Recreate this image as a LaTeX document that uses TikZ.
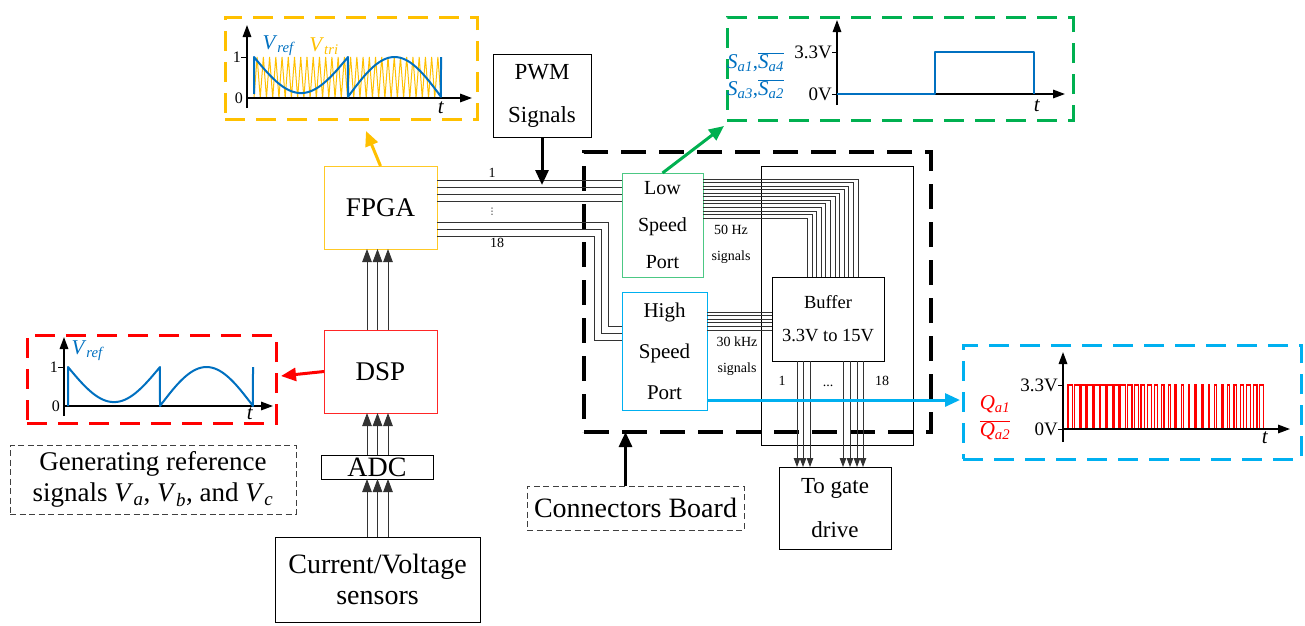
\documentclass[tikz,border=0pt]{standalone}
\usepackage{fontspec}
\setmainfont{Liberation Serif}
\newfontfamily\dejavu{DejaVu Sans}
\usepackage{xcolor}
\usetikzlibrary{arrows.meta, positioning, calc}

\definecolor{oryel}{HTML}{FFC000}
\definecolor{grn}{HTML}{00B050}
\definecolor{rd}{HTML}{FF0000}
\definecolor{cyn}{HTML}{00B0F0}
\definecolor{blu}{HTML}{0070C0}

\newcommand{\fsz}[2]{\fontsize{#1}{#2}\selectfont}
\newcommand{\isub}[2]{\textit{#1}\textsubscript{\textit{#2}}}

\begin{document}
\begin{tikzpicture}[x=1pt, y=-1pt]
\tikzset{
  blk/.style={rectangle,draw=black,line width=0.9pt,inner sep=0pt,outer sep=0pt,align=center},
  lblbox/.style={blk,draw=black!75,dash pattern=on 6pt off 3.5pt},
  zone/.style={rectangle,line width=3pt,dash pattern=on 20pt off 11pt,inner sep=0pt,outer sep=0pt},
  board/.style={zone,draw=black,line width=3.5pt,dash pattern=on 25pt off 13pt},
  wire/.style={line width=0.9pt,draw=black!80},
  tri3/.style={wire,-{Triangle[length=13pt,width=9.5pt]}},
  tri1/.style={wire,-{Triangle[length=9pt,width=6.5pt]}},
  bigar/.style={line width=3pt,-{Triangle[length=15pt,width=13pt]}},
  ax/.style={line width=1.6pt,-{Triangle[length=12pt,width=8.5pt]}},
  vref/.style={draw=blu,line width=2pt,line join=round},
  pulse/.style={color=rd,line width=1.2pt},
  wlab/.style={inner sep=0pt,font=\fsz{16}{18}},
  sml/.style={inner sep=0pt,font=\fsz{14}{26},align=center}
}
\useasboundingbox (0,0) rectangle (1305,625);
% ---- processing chain
\node[blk,draw=oryel!85,minimum width=113pt,minimum height=83pt,font=\fsz{27}{32}] (fpga) at (380.5,207.5) {FPGA};
\node[blk,draw=rd!85,minimum width=113pt,minimum height=83pt,font=\fsz{27}{32}] (dsp) at (380.5,371.5) {DSP};
\node[blk,minimum width=112pt,minimum height=24pt,font=\fsz{28}{32}] (adc) at (377,467) {ADC};
\node[blk,minimum width=205pt,minimum height=85pt,font=\fsz{28}{31}] (sens) at (377.5,579.5) {Current/Voltage\\sensors};
\node[lblbox,minimum width=286pt,minimum height=69pt,font=\fsz{27}{31}] (gen) at (153,479.5) {Generating reference\\signals \isub{V}{a}, \isub{V}{b}, and \isub{V}{c}};
\node[blk,minimum width=98pt,minimum height=83pt,font=\fsz{23}{46}] (pwm) at (542,95.5) {\raisebox{-3pt}{PWM}\\Signals};
% ---- connectors board
\node[board,minimum width=347pt,minimum height=280pt] (board) at (757.5,292) {};
\node[blk,draw=grn!70,minimum width=81pt,minimum height=104pt,font=\fsz{20}{37}] (lsp) at (662.5,225) {Low\\Speed\\Port};
\node[blk,draw=cyn,minimum width=85pt,minimum height=118pt,font=\fsz{21}{41}] (hsp) at (664.5,351) {High\\Speed\\Port};
\node[blk,minimum width=152pt,minimum height=279pt] (frame) at (837,305.5) {};
\node[blk,minimum width=112pt,minimum height=84pt,font=\fsz{18.5}{33}] (buf) at (828,319) {Buffer\\3.3V to 15V};
\node[blk,minimum width=112pt,minimum height=82pt,font=\fsz{23}{44}] (gate) at (835,508) {To gate\\drive};
\node[lblbox,minimum width=217pt,minimum height=44pt,font=\fsz{28}{32}] (cb) at (635.5,508) {Connectors Board};
% ---- waveform zones
\node[zone,draw=oryel,minimum width=252pt,minimum height=102pt] (ybox) at (351,68) {};
\node[zone,draw=grn,minimum width=346pt,minimum height=103pt] (gbox) at (900,68.5) {};
\node[zone,draw=rd,minimum width=249pt,minimum height=88pt] (rbox) at (151.5,379) {};
\node[zone,draw=cyn,minimum width=338pt,minimum height=114pt] (cbox) at (1132,402) {};
% ---- bus wires
\foreach \wy in {180,187,194,201}
  \draw[wire] (fpga.east |- 0,\wy) -- (lsp.west |- 0,\wy);
\foreach \wa/\wb/\wc in {222/608/326, 229/601/333, 236/594/340}
  \draw[wire] (fpga.east |- 0,\wa) -| (\wb,\wc) -- (hsp.west |- 0,\wc);
\foreach \i in {0,...,11}{
  \pgfmathsetmacro\wy{179+3.55*\i}
  \pgfmathsetmacro\wx{858-4.6*\i}
  \draw[wire] (lsp.east |- 0,\wy) -| (buf.north -| \wx,0);
}
\foreach \i in {0,...,5}{
  \pgfmathsetmacro\wy{312+3.6*\i}
  \draw[wire] (hsp.east |- 0,\wy) -- (buf.west |- 0,\wy);
}
\foreach \wx in {797,803,810,843,850,857,863}
  \draw[tri1] (buf.south -| \wx,0) -- (gate.north -| \wx,0);
\foreach \wx in {367,377.5,388}{
  \draw[tri3] (dsp.north -| \wx,0) -- (fpga.south -| \wx,0);
  \draw[tri3] (adc.north -| \wx,0) -- (dsp.south -| \wx,0);
  \draw[tri3] (sens.north -| \wx,0) -- (adc.south -| \wx,0);
}
% ---- arrows
\coordinate (cbup) at ($(cb.north)+(-10,0)$);
\draw[bigar] (pwm.south) -- (pwm.south |- 0,185);
\draw[bigar] (cbup) -- (cbup |- board.south);
\draw[bigar,oryel] (fpga.north) -- ($(ybox.south)+(15,12)$);
\draw[bigar,grn] (lsp.north) -- ($(gbox.south west)+(-3,6)$);
\draw[bigar,rd] (dsp.west) -- ($(rbox.east)+(5,-3)$);
\draw[bigar,cyn] (hsp.east |- 0,400) -- ($(cbox.west |- 0,400)+(-3,0)$);
% ---- wire labels
\node[sml] at (492,173) {1};
\node[inner sep=0pt,font=\dejavu\fsz{9}{10}] at (492,212) {⋮};
\node[sml] at (497,243) {18};
\node[sml] (lslab) at (731,244) {50 Hz\\signals};
\node[sml] (hslab) at (737,356) {30 kHz\\signals};
\node[sml] at (782,381) {1};
\node[sml] at (828,386) {...};
\node[sml] at (882,381) {18};
% ---- V_ref and V_tri
\draw[oryel,line width=1pt] (254,98) \foreach \k in {0,...,29}{ -- ({254+(\k+0.5)*6.233},57) -- ({254+(\k+1)*6.233},98) };
\draw[ax] (247,108) -- (247,25);
\draw[ax] (247,98) -- (472,98);
\draw[line width=1pt] (241,57) -- (247,57);
\draw[vref] (254,94) -- (254,57) -- plot[domain=0:1,samples=40] ({254+94*\x},{98-41*(1-0.88*sin(180*\x))}) -- (348,96) -- plot[domain=0:1,samples=40] ({348+93*\x},{98-41*(0.03+0.97*sin(180*\x))}) -- (441,57);
\node[wlab,anchor=east] at (241,57) {1};
\node[wlab,anchor=east] at (243,98) {0};
\node[inner sep=0pt,font=\fsz{21}{24},blu] at (279,46) {\isub{V}{ref}};
\node[inner sep=0pt,font=\fsz{21}{24},oryel] at (324,46) {\isub{V}{tri}};
\node[inner sep=0pt,font=\fsz{21}{24}] at (441,108) {\textit{t}};
% ---- V_ref of the DSP
\draw[ax] (64,416) -- (64,337);
\draw[ax] (64,406) -- (273,406);
\draw[line width=1pt] (58,367) -- (64,367);
\draw[vref] (68,406) -- (68,367) -- plot[domain=0:1,samples=40] ({68+92*\x},{406-39*(1-0.9*sin(180*\x))}) -- (160,406) -- plot[domain=0:1,samples=40] ({160+93*\x},{406-39*sin(180*\x)}) -- (253,367);
\node[wlab,anchor=east] at (58,367) {1};
\node[wlab,anchor=east] at (60,406) {0};
\node[inner sep=0pt,font=\fsz{21}{24},blu] at (88,351) {\isub{V}{ref}};
\node[inner sep=0pt,font=\fsz{21}{24}] at (250,414) {\textit{t}};
% ---- low speed signal
\draw[ax] (837,105) -- (837,20);
\draw[ax] (837,94) -- (1065,94);
\draw[line width=1pt] (832,52) -- (837,52) (832,94) -- (837,94);
\draw[vref] (837,94) -- (935,94) -- (935,52) -- (1034,52) -- (1034,94);
\node[wlab,font=\fsz{19}{22},anchor=east] at (832,52) {3.3V};
\node[wlab,font=\fsz{19}{22},anchor=east] at (832,94) {0V};
\node[inner sep=0pt,font=\fsz{21}{27},blu,anchor=west,align=left] at (727,76) {\isub{S}{a1},$\overline{\hbox{\isub{S}{a4}}}$\\\isub{S}{a3},$\overline{\hbox{\isub{S}{a2}}}$};
\node[inner sep=0pt,font=\fsz{21}{24}] at (1037,106) {\textit{t}};
% ---- high speed signal
\draw[pulse] (1067,429) -- (1265,429);
\foreach \k in {0,...,29}{
  \pgfmathsetmacro\duty{0.5+0.3*sin(360*(\k+0.5)/30+30)}
  \pgfmathsetmacro\xa{1067+6.6*\k+6.6*(1-\duty)/2}
  \pgfmathsetmacro\xb{\xa+6.6*\duty}
  \draw[pulse] (\xa,429) -- (\xa,385) -- (\xb,385) -- (\xb,429);
}
\draw[ax] (1063,442) -- (1063,352);
\draw[ax] (1063,429) -- (1290,429);
\draw[line width=1pt] (1058,385) -- (1063,385) (1058,429) -- (1063,429);
\node[wlab,font=\fsz{19}{22},anchor=east] at (1058,385) {3.3V};
\node[wlab,font=\fsz{19}{22},anchor=east] at (1058,429) {0V};
\node[inner sep=0pt,font=\fsz{21}{27},rd,align=center] at (995,418) {\isub{Q}{a1}\\$\overline{\hbox{\isub{Q}{a2}}}$};
\node[inner sep=0pt,font=\fsz{21}{24}] at (1265,438) {\textit{t}};
\end{tikzpicture}
\end{document}
